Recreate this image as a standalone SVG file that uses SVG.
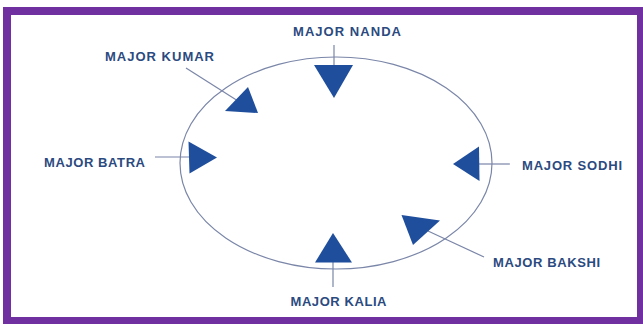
<svg xmlns="http://www.w3.org/2000/svg" width="643" height="324" viewBox="0 0 643 324">
<style>
.lbl{font-family:"Liberation Sans",Arial,sans-serif;font-weight:bold;font-size:13px;fill:#2b4a80}
.tri{fill:#1f4e9c}
.ln{stroke:#7a86a8;stroke-width:1.2;fill:none}
</style>
<rect x="0" y="0" width="643" height="324" fill="#ffffff"/>
<rect x="7" y="11" width="634" height="310" fill="none" stroke="#7030a0" stroke-width="8"/>
<ellipse id="circle" cx="336" cy="163" rx="156" ry="106" fill="none" stroke="#7a86a8" stroke-width="1.2"/>
<g id="connectors">
<line class="ln" x1="334" y1="45" x2="334" y2="66"/>
<line class="ln" x1="186" y1="68" x2="238" y2="101"/>
<line class="ln" x1="155" y1="157" x2="190" y2="157"/>
<line class="ln" x1="478" y1="164" x2="510" y2="164"/>
<line class="ln" x1="428" y1="231" x2="484" y2="257"/>
<line class="ln" x1="333" y1="262" x2="333" y2="287"/>
</g>
<g id="nanda"><polygon class="tri" points="314,65 353,65 334,98"/><text class="lbl" x="293" y="36" textLength="108" lengthAdjust="spacing">MAJOR NANDA</text></g>
<g id="kumar"><polygon class="tri" points="248,87 225,111 258,113"/><text class="lbl" x="105" y="61" textLength="109" lengthAdjust="spacing">MAJOR KUMAR</text></g>
<g id="batra"><polygon class="tri" points="188.5,141.5 189.5,173.5 217,157.5"/><text class="lbl" x="44" y="167" textLength="101" lengthAdjust="spacing">MAJOR BATRA</text></g>
<g id="sodhi"><polygon class="tri" points="453,164 479,146.5 479.5,181"/><text class="lbl" x="522" y="170" textLength="100" lengthAdjust="spacing">MAJOR SODHI</text></g>
<g id="bakshi"><polygon class="tri" points="401.5,215 440,220.5 413,245"/><text class="lbl" x="493" y="267" textLength="107" lengthAdjust="spacing">MAJOR BAKSHI</text></g>
<g id="kalia"><polygon class="tri" points="333,233 315,262.5 352,262.5"/><text class="lbl" x="290.5" y="306" textLength="96" lengthAdjust="spacing">MAJOR KALIA</text></g>
</svg>
